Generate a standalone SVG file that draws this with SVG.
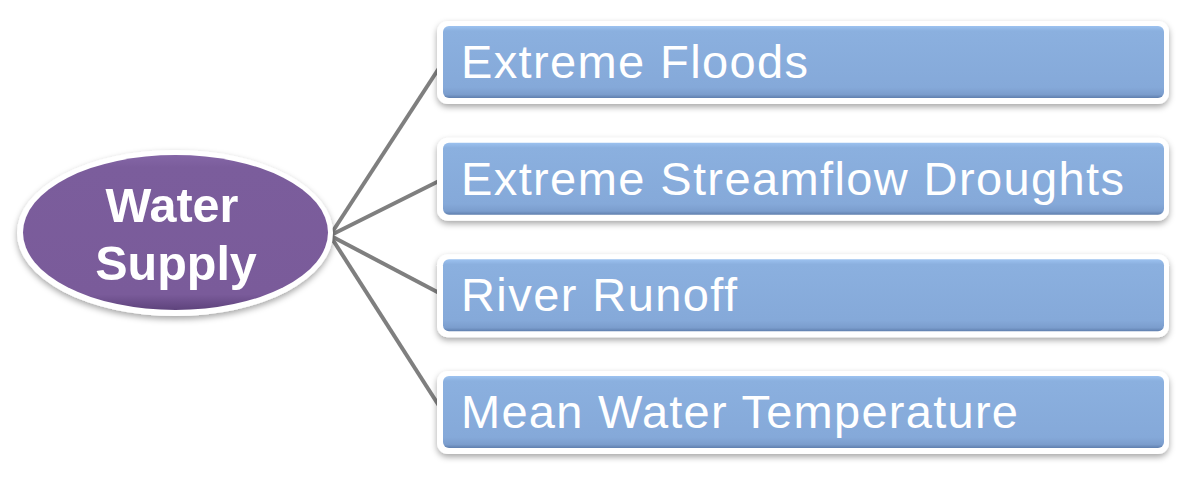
<svg xmlns="http://www.w3.org/2000/svg" width="1186" height="495" viewBox="0 0 1186 495">
  <defs>
    <linearGradient id="blue" x1="0" y1="0" x2="0" y2="1">
      <stop offset="0" stop-color="#9cc2f0"/>
      <stop offset="0.07" stop-color="#8bb0df"/>
      <stop offset="0.85" stop-color="#85a9d9"/>
      <stop offset="0.95" stop-color="#7b9dcd"/>
      <stop offset="1" stop-color="#5f7fae"/>
    </linearGradient>
    <linearGradient id="purple" x1="0" y1="0" x2="0" y2="1">
      <stop offset="0" stop-color="#8466a6"/>
      <stop offset="0.08" stop-color="#7b5d9c"/>
      <stop offset="0.9" stop-color="#7a5b9a"/>
      <stop offset="1" stop-color="#5e437c"/>
    </linearGradient>
    <filter id="shadow" x="-10%" y="-20%" width="120%" height="150%">
      <feDropShadow dx="0" dy="3" stdDeviation="3" flood-color="#000" flood-opacity="0.35"/>
    </filter>
  </defs>
  <style>
    .frame { fill: #ffffff; filter: url(#shadow); }
    .box { fill: url(#blue); }
    .label { font-family: "Liberation Sans", Arial, sans-serif; font-size: 47px; fill: #ffffff; }
    .hub { font-family: "Liberation Sans", Arial, sans-serif; font-size: 48.5px; font-weight: bold; fill: #ffffff; text-anchor: middle; }
    .conn { stroke: #7f7f7f; stroke-width: 4; fill: none; }
  </style>
  <rect width="1186" height="495" fill="#ffffff"/>

  <g id="connectors">
    <line class="conn" x1="331" y1="234" x2="443" y2="62"/>
    <line class="conn" x1="331" y1="235" x2="443" y2="179"/>
    <line class="conn" x1="331" y1="236" x2="443" y2="295"/>
    <line class="conn" x1="331" y1="237" x2="443" y2="412"/>
  </g>

  <g id="hub">
    <ellipse cx="175" cy="233" rx="158" ry="83" class="frame"/>
    <ellipse cx="175.5" cy="232.5" rx="152.5" ry="77.5" fill="url(#purple)"/>
    <text class="hub" x="172" y="222">Water</text>
    <text class="hub" x="176" y="280">Supply</text>
  </g>

  <g id="node1">
    <rect class="frame" x="437" y="21" width="732" height="83" rx="11"/>
    <rect class="box" x="443" y="26" width="721" height="72" rx="6"/>
    <text class="label" x="461" y="78" textLength="347" lengthAdjust="spacing">Extreme Floods</text>
  </g>

  <g id="node2">
    <rect class="frame" x="437" y="137.7" width="732" height="83" rx="11"/>
    <rect class="box" x="443" y="142.7" width="721" height="72" rx="6"/>
    <text class="label" x="461" y="194.5" textLength="663" lengthAdjust="spacing">Extreme Streamflow Droughts</text>
  </g>

  <g id="node3">
    <rect class="frame" x="437" y="254.3" width="732" height="83" rx="11"/>
    <rect class="box" x="443" y="259.3" width="721" height="72" rx="6"/>
    <text class="label" x="461" y="311" textLength="276" lengthAdjust="spacing">River Runoff</text>
  </g>

  <g id="node4">
    <rect class="frame" x="437" y="371" width="732" height="83" rx="11"/>
    <rect class="box" x="443" y="376" width="721" height="72" rx="6"/>
    <text class="label" x="461" y="428" textLength="557" lengthAdjust="spacing">Mean Water Temperature</text>
  </g>
</svg>
